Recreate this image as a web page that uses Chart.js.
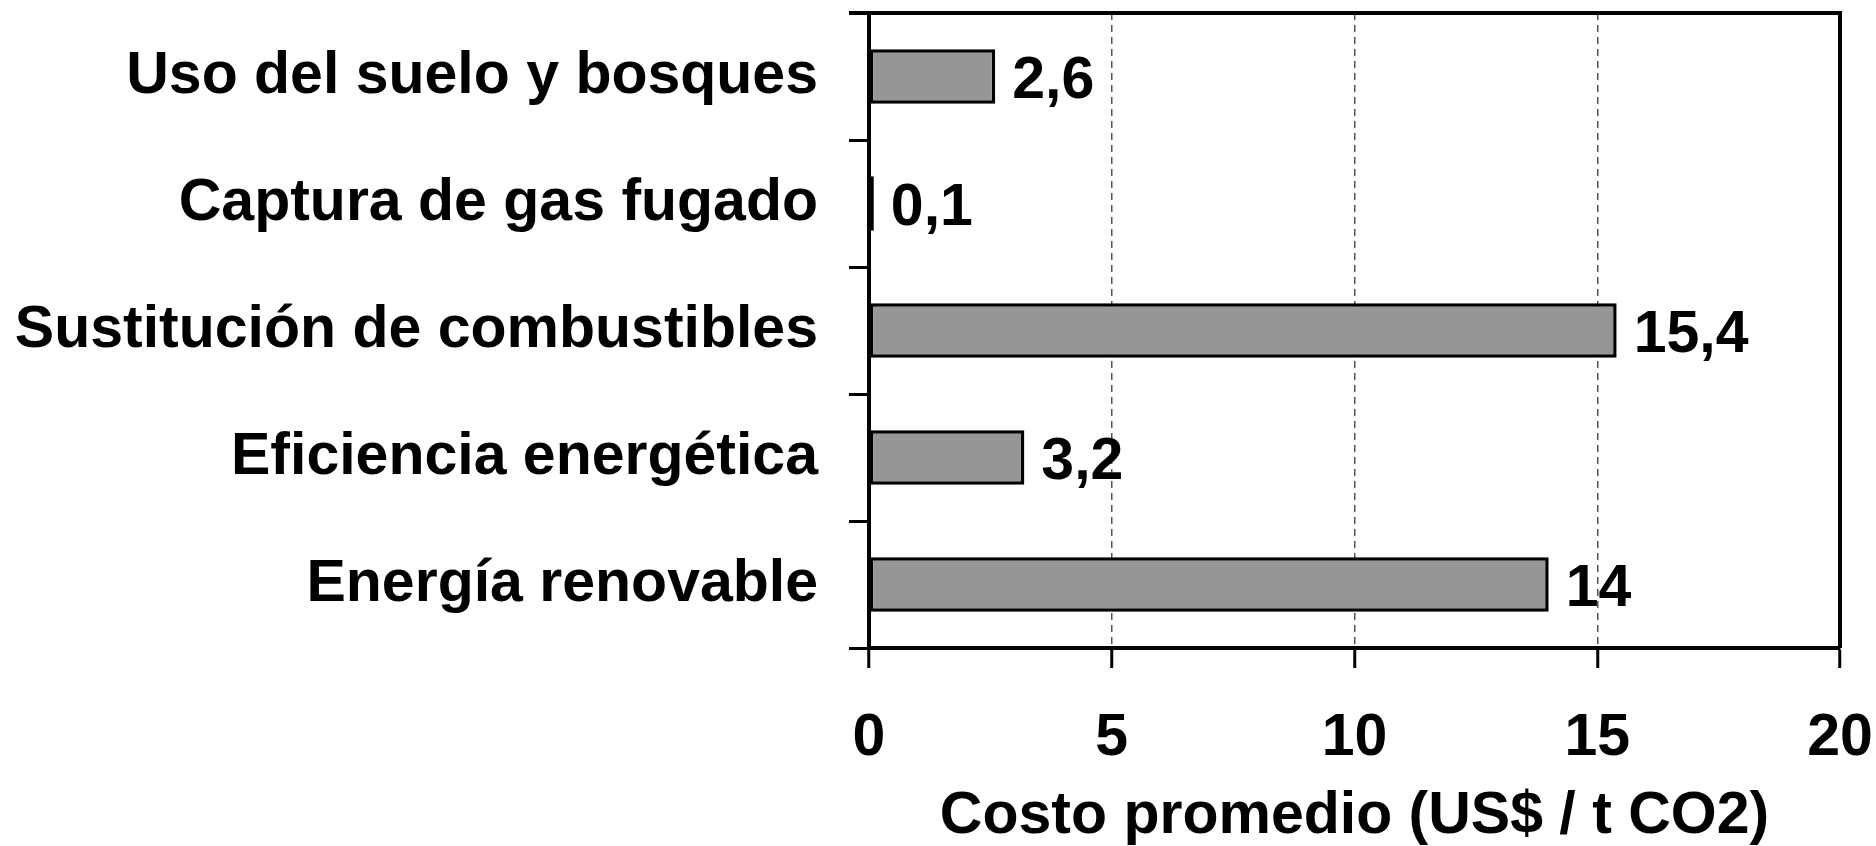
<!DOCTYPE html>
<html>
<head>
<meta charset="utf-8">
<script src="https://cdn.jsdelivr.net/npm/chart.js@4"></script>
<style>
  html, body { margin: 0; padding: 0; background: #fff; }
  #chart { display: block; }
</style>
</head>
<body>
<canvas id="chart" width="1876" height="846"></canvas>
<script>
const categories = [
  'Uso del suelo y bosques',
  'Captura de gas fugado',
  'Sustitución de combustibles',
  'Eficiencia energética',
  'Energía renovable'
];
const costs = [2.6, 0.1, 15.4, 3.2, 14];
const xTicks = [0, 5, 10, 15, 20];
const xTitle = 'Costo promedio (US$ / t CO2)';

const FONT = "'Liberation Sans', Arial, sans-serif";

// value labels at the end of each bar
const valueLabels = {
  id: 'valueLabels',
  afterDatasetsDraw(chart) {
    const ctx = chart.ctx;
    const meta = chart.getDatasetMeta(0);
    ctx.save();
    ctx.font = 'bold 59px ' + FONT;
    ctx.fillStyle = '#000';
    ctx.textAlign = 'left';
    ctx.textBaseline = 'middle';
    meta.data.forEach((bar, i) => {
      ctx.fillText(String(costs[i]).replace('.', ','), bar.x + 17, bar.y + 5);
    });
    ctx.restore();
  }
};

// top and right sides of the plot frame
const frame = {
  id: 'frame',
  afterDatasetsDraw(chart) {
    const { ctx, chartArea: a } = chart;
    ctx.save();
    ctx.strokeStyle = '#000';
    ctx.lineWidth = 4;
    ctx.beginPath();
    ctx.moveTo(a.left - 20, a.top);
    ctx.lineTo(a.right, a.top);
    ctx.lineTo(a.right, a.bottom);
    ctx.stroke();
    ctx.restore();
  }
};

new Chart(document.getElementById('chart').getContext('2d'), {
  type: 'bar',
  data: {
    labels: categories,
    datasets: [{
      data: costs,
      backgroundColor: '#969696',
      borderColor: '#000',
      borderWidth: 3.5,
      borderSkipped: false,
      categoryPercentage: 1,
      barPercentage: 0.43
    }]
  },
  options: {
    indexAxis: 'y',
    responsive: false,
    animation: false,
    layout: { padding: { top: 13, right: 36, left: 0, bottom: 0 } },
    plugins: {
      legend: { display: false },
      tooltip: { enabled: false }
    },
    scales: {
      y: {
        afterFit(scale) {
          scale.width = 869;
          scale.paddingTop = 0;
          scale.paddingBottom = 0;
        },
        grid: {
          offset: true,
          drawOnChartArea: false,
          tickLength: 20,
          tickColor: '#000',
          tickWidth: 3
        },
        border: { color: '#000', width: 4, z: 1 },
        ticks: {
          padding: 31,
          color: '#000',
          font: { family: FONT, size: 59, weight: 'bold', lineHeight: 1 }
        }
      },
      x: {
        min: 0,
        max: 20,
        afterFit(scale) {
          scale.height = 198;
          scale.paddingLeft = 0;
          scale.paddingRight = 0;
        },
        afterBuildTicks(scale) { scale.ticks = xTicks.map(v => ({ value: v })); },
        grid: {
          color: ctx => (ctx.tick && ctx.tick.value > 0 && ctx.tick.value < 20) ? '#555' : 'rgba(0,0,0,0)',
          lineWidth: 1.5,
          tickLength: 20,
          tickColor: '#000',
          tickWidth: 3,
          tickBorderDash: []
        },
        border: { color: '#000', width: 4, dash: [7, 5] },
        ticks: {
          padding: 41,
          color: '#000',
          maxRotation: 0,
          font: { family: FONT, size: 59, weight: 'bold', lineHeight: 1 }
        },
        title: {
          display: true,
          text: xTitle,
          color: '#000',
          padding: 0,
          font: { family: FONT, size: 59, weight: 'bold', lineHeight: 1 }
        }
      }
    }
  },
  plugins: [valueLabels, frame]
});
</script>
</body>
</html>
